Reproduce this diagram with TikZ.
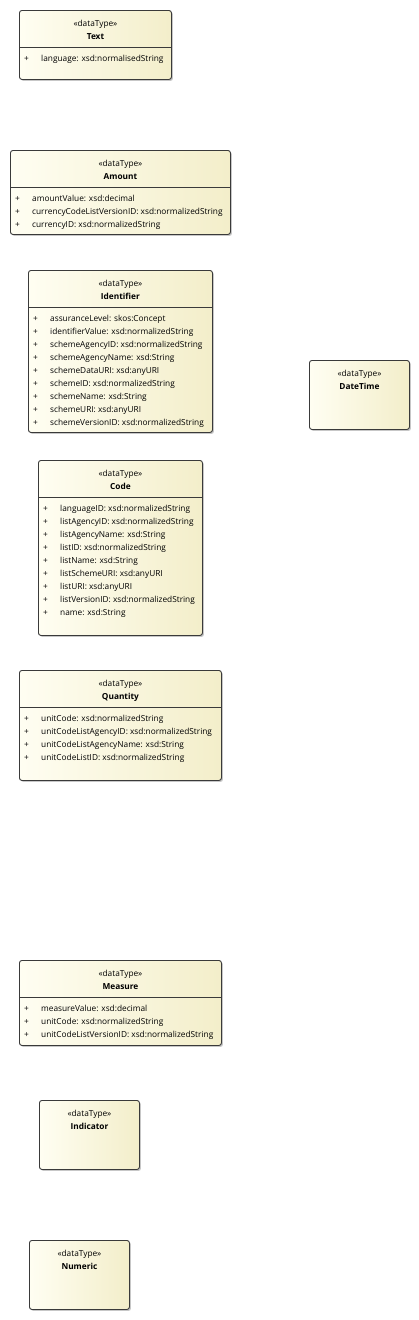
\documentclass[tikz,border=0pt]{standalone}
\usepackage{fontspec}
\setmainfont{Open Sans}
\usetikzlibrary{shadows,calc}
\definecolor{umlL}{HTML}{FFFEF2}
\definecolor{umlR}{HTML}{F3EECA}
\definecolor{umlD}{HTML}{3A3A3A}
\tikzset{
 umlbox/.style={draw=umlD, line width=0.9pt, rounded corners=2.5pt, left color=umlL, right color=umlR, anchor=north west, inner sep=0pt, drop shadow={shadow xshift=1.5pt, shadow yshift=-1.5pt, fill=black, opacity=0.22}},
 stereo/.style={font=\fontsize{8.3}{10}\selectfont, inner sep=0pt, anchor=base},
 cname/.style={font=\fontsize{8.3}{10}\selectfont\bfseries, inner sep=0pt, anchor=base},
 attr/.style={font=\fontsize{8.3}{10}\selectfont, inner sep=0pt, anchor=base west},
 divider/.style={draw=umlD, line width=0.9pt}
}
\newcommand{\dtbox}[6]{%
 \node[umlbox, minimum width=#4pt, minimum height=#5pt] (#1) at (#2,#3) {};
 \node[stereo] (#1-st) at ([yshift=-16pt]#1.north) {«dataType»};
 \node[cname] (#1-nm) at ([yshift=-29.5pt]#1.north) {#6};
}
\newcommand{\dtattrs}[2]{%
 \draw[divider] ([yshift=-37.5pt]#1.north west) -- ([yshift=-37.5pt]#1.north east);
 \foreach \t [count=\i] in {#2} {
  \node[attr] (#1-r\i) at ([xshift=5pt,yshift={-(51+13*(\i-1))*1pt}]#1.north west) {\makebox[17pt][l]{+}\t};
 }
}
\begin{document}
\begin{tikzpicture}[x=1pt,y=-1pt]
\useasboundingbox[fill=white] (0,0) rectangle (419,1320);
\dtbox{text}{19}{10}{152}{69}{Text}
\dtattrs{text}{language: xsd:normalisedString}
\dtbox{amount}{10}{150}{220}{84}{Amount}
\dtattrs{amount}{amountValue: xsd:decimal, currencyCodeListVersionID: xsd:normalizedString, currencyID: xsd:normalizedString}
\dtbox{identifier}{28}{270}{184}{162}{Identifier}
\dtattrs{identifier}{assuranceLevel: skos:Concept, identifierValue: xsd:normalizedString, schemeAgencyID: xsd:normalizedString, schemeAgencyName: xsd:String, schemeDataURI: xsd:anyURI, schemeID: xsd:normalizedString, schemeName: xsd:String, schemeURI: xsd:anyURI, schemeVersionID: xsd:normalizedString}
\dtbox{datetime}{309}{360}{100}{69}{DateTime}
\dtbox{code}{38}{460}{164}{175}{Code}
\dtattrs{code}{languageID: xsd:normalizedString, listAgencyID: xsd:normalizedString, listAgencyName: xsd:String, listID: xsd:normalizedString, listName: xsd:String, listSchemeURI: xsd:anyURI, listURI: xsd:anyURI, listVersionID: xsd:normalizedString, name: xsd:String}
\dtbox{quantity}{19}{670}{202}{110}{Quantity}
\dtattrs{quantity}{unitCode: xsd:normalizedString, unitCodeListAgencyID: xsd:normalizedString, unitCodeListAgencyName: xsd:String, unitCodeListID: xsd:normalizedString}
\dtbox{measure}{19}{960}{202}{85}{Measure}
\dtattrs{measure}{measureValue: xsd:decimal, unitCode: xsd:normalizedString, unitCodeListVersionID: xsd:normalizedString}
\dtbox{indicator}{39}{1100}{100}{69}{Indicator}
\dtbox{numeric}{29}{1240}{100}{69}{Numeric}
\end{tikzpicture}
\end{document}
